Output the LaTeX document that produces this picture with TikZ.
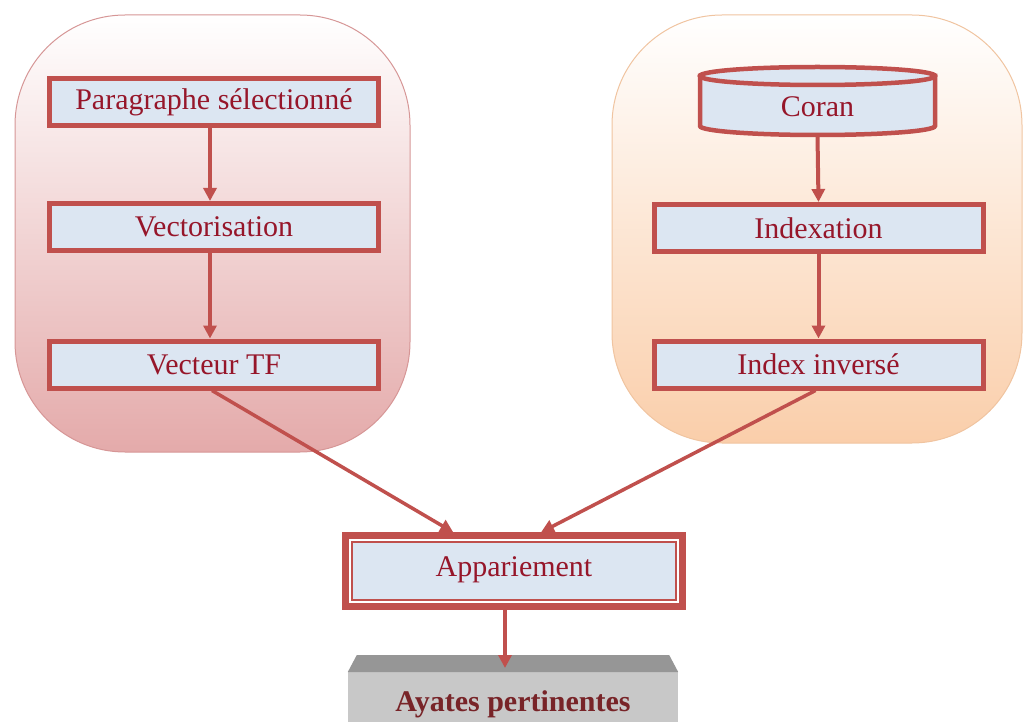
\documentclass[tikz,border=0pt]{standalone}
\usepackage{fontspec}
\setmainfont{Liberation Serif}
\usetikzlibrary{arrows.meta,calc}
\definecolor{boxred}{RGB}{192,80,77}
\definecolor{boxfill}{RGB}{220,230,242}
\definecolor{txtred}{RGB}{150,22,42}
\definecolor{pinkend}{RGB}{228,170,170}
\definecolor{pinkline}{RGB}{214,150,150}
\definecolor{peachend}{RGB}{250,206,170}
\definecolor{peachline}{RGB}{240,196,160}
\definecolor{graytop}{RGB}{150,150,150}
\definecolor{grayfront}{RGB}{200,200,200}
\definecolor{ayatxt}{RGB}{120,36,40}
\tikzset{
  panelL/.style={draw=pinkline, line width=1pt, rounded corners=110pt, top color=white, bottom color=pinkend},
  panelR/.style={draw=peachline, line width=1pt, rounded corners=110pt, top color=white, bottom color=peachend},
  procbox/.style={draw=boxred, line width=5pt, fill=boxfill, minimum width=329pt, minimum height=47pt, inner sep=0pt, text=txtred, font=\fontsize{30}{34}\selectfont},
  cylpart/.style={draw=boxred, line width=4.5pt, fill=boxfill},
  flow/.style={draw=boxred, line width=4pt, -{Triangle[length=13pt,width=13pt]}},
}
\begin{document}
\begin{tikzpicture}[x=1pt,y=-1pt]
\useasboundingbox (0,0) rectangle (1026,722);
% panels
\path[panelL] (15,15) rectangle (410,452);
\path[panelR] (612,15) rectangle (1022,443);
% left column
\node[procbox] (par) at (214,102) {Paragraphe sélectionné};
\node[procbox] (vec) at (214,227) {Vectorisation};
\node[procbox] (vtf) at (214,364.5) {Vecteur TF};
% Coran cylinder
\path[cylpart] (700,76) -- (700,126) arc[start angle=180,end angle=360,x radius=117.5pt,y radius=9pt] -- (935,76) -- cycle;
\path[cylpart] (817.5,76) ellipse [x radius=117.5pt, y radius=9pt];
\node[text=txtred, font=\fontsize{30}{34}\selectfont, minimum width=235pt, minimum height=50pt, inner sep=0pt] (cor) at (817.5,107) {Coran};
\coordinate (corb) at (817.5,135);
% right column
\node[procbox] (idx) at (818.5,228) {Indexation};
\node[procbox] (inv) at (818.5,364.5) {Index inversé};
% Appariement
\node[fill=boxfill, minimum width=337pt, minimum height=71pt, inner sep=0pt, text=txtred, font=\fontsize{30}{34}\selectfont] (app) at (514,571) {\raisebox{8pt}{Appariement}};
\draw[boxred, line width=7pt] (app.north west) rectangle (app.south east);
\draw[white, line width=2pt] ([shift={(4.5pt,-4.5pt)}]app.north west) rectangle ([shift={(-4.5pt,4.5pt)}]app.south east);
\draw[boxred, line width=2pt] ([shift={(6.5pt,-6.5pt)}]app.north west) rectangle ([shift={(-6.5pt,6.5pt)}]app.south east);
% Ayates pertinentes
\node[fill=grayfront, minimum width=330pt, minimum height=64pt, inner sep=0pt, text=ayatxt, font=\fontsize{30}{34}\selectfont\bfseries, anchor=north] (aya) at (513,672) {\raisebox{6pt}{Ayates pertinentes}};
\fill[graytop] (aya.north west) -- ([shift={(9pt,17pt)}]aya.north west) -- ([shift={(-9pt,17pt)}]aya.north east) -- (aya.north east) -- cycle;
% connectors
\draw[flow] ([xshift=-4pt]par.south) -- ([xshift=-4pt]vec.north);
\draw[flow] ([xshift=-4pt]vec.south) -- ([xshift=-4pt]vtf.north);
\draw[flow] (corb) -- (idx.north);
\draw[flow] (idx.south) -- (inv.north);
\draw[flow, line width=3.5pt] ([xshift=-2pt]vtf.south) -- ($(app.north west)!0.32!(app.north east)+(0,-3)$);
\draw[flow, line width=3.5pt] ([xshift=-3pt]inv.south) -- ($(app.north west)!0.58!(app.north east)+(0,-3)$);
\draw[flow] ([xshift=-9pt]app.south) -- ([xshift=-8pt,yshift=4pt]aya.north);
\end{tikzpicture}
\end{document}
